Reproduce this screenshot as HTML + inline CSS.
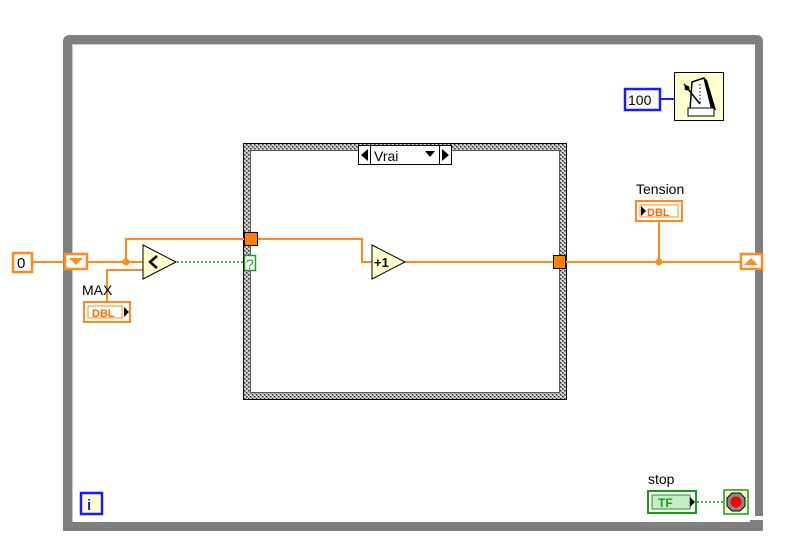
<!DOCTYPE html>
<html><head><meta charset="utf-8"><style>
html,body{margin:0;padding:0;background:#fff;}
svg{display:block;}
text{font-family:"Liberation Sans",sans-serif;}
</style></head><body>
<svg width="790" height="552" viewBox="0 0 790 552" xmlns="http://www.w3.org/2000/svg">
<defs>
<pattern id="chk" width="4" height="4" patternUnits="userSpaceOnUse">
<rect width="4" height="4" fill="#8a8a8a"/>
<circle cx="1" cy="1" r="0.9" fill="#ffffff"/>
<circle cx="3" cy="3" r="0.9" fill="#ffffff"/>
<rect x="2" y="0" width="1" height="1" fill="#303030"/>
<rect x="0" y="2" width="1" height="1" fill="#303030"/>
</pattern>
</defs>
<rect width="790" height="552" fill="#fff"/>
<!-- while loop frame -->
<path d="M63,531 L63,42 Q63,35 70,35 L756,35 Q763,35 763,42 L763,516 L755,516 L755,44 L72,44 L72,522 L750,522 L750,520 L763,520 L763,531 Z" fill="#7f7f7f"/>
<line x1="72" y1="44.5" x2="755" y2="44.5" stroke="#c8c8c8" stroke-width="1"/>
<line x1="72.5" y1="44" x2="72.5" y2="522" stroke="#c8c8c8" stroke-width="1"/>
<!-- case structure -->
<path d="M243,143 H567 V400 H243 Z M251,151 V392 H559 V151 Z" fill="url(#chk)" fill-rule="evenodd"/>
<rect x="243.5" y="143.5" width="323" height="256" fill="none" stroke="#000" stroke-width="1"/>
<rect x="250.5" y="150.5" width="309" height="242" fill="none" stroke="#555" stroke-width="1"/>
<!-- selector label -->
<rect x="358.5" y="145.5" width="93" height="19" fill="#fff" stroke="#000"/>
<line x1="370.5" y1="145" x2="370.5" y2="165" stroke="#000"/>
<line x1="439.5" y1="145" x2="439.5" y2="165" stroke="#000"/>
<polygon points="361,155 368,149 368,161" fill="#000"/>
<polygon points="442,149 449,155 442,161" fill="#000"/>
<polygon points="425,151 435,151 430,157" fill="#000"/>
<text x="374" y="161" font-size="14">Vrai</text>
<!-- orange wires -->
<g stroke="#ff8c1a" stroke-width="2" fill="none">
<line x1="32" y1="262" x2="64" y2="262"/>
<line x1="88" y1="262" x2="144" y2="262"/>
<polyline points="126,262 126,239 244,239"/>
<polyline points="107,301 107,270 144,270"/>
<polyline points="258,239 362,239 362,262 372,262"/>
<line x1="405" y1="262" x2="553" y2="262"/>
<line x1="566" y1="262" x2="740" y2="262"/>
<line x1="659" y1="222" x2="659" y2="262"/>
</g>
<circle cx="126" cy="262" r="3.5" fill="#ff8c1a"/>
<circle cx="659" cy="262" r="3.5" fill="#ff8c1a"/>
<!-- green dotted wires -->
<line x1="177" y1="262" x2="244" y2="262" stroke="#1a9a1a" stroke-width="1.5" stroke-dasharray="2,2"/>
<line x1="697" y1="502" x2="723" y2="502" stroke="#1a9a1a" stroke-width="1.5" stroke-dasharray="2,2"/>
<!-- blue wire -->
<line x1="660" y1="99" x2="674" y2="99" stroke="#1a1aff" stroke-width="2"/>
<!-- 0 constant -->
<rect x="13" y="253" width="19" height="19" fill="#fff" stroke="#ff8c1a" stroke-width="2.5"/>
<text x="17" y="268" font-size="15">0</text>
<!-- left shift register -->
<rect x="65" y="254" width="22" height="15" fill="#fff" stroke="#ff8c1a" stroke-width="2.5"/>
<polygon points="69,258 83,258 76,265" fill="#ff8c1a"/>
<!-- right shift register -->
<rect x="741" y="254" width="21" height="15" fill="#fff" stroke="#ff8c1a" stroke-width="2.5"/>
<polygon points="744,265 758,265 751,258" fill="#ff8c1a"/>
<!-- compare -->
<polygon points="143,245 176,262 143,279" fill="#ffffcc" stroke="#000" stroke-width="1"/>
<polyline points="157,256 150,262 157,268" fill="none" stroke="#000" stroke-width="2.5"/>
<!-- +1 -->
<polygon points="372,245 405,262 372,279" fill="#ffffcc" stroke="#000" stroke-width="1"/>
<text x="374" y="267" font-size="13" font-weight="bold">+1</text>
<!-- tunnels -->
<rect x="244.5" y="232.5" width="13" height="13" fill="#ff8000" stroke="#000"/>
<rect x="553.5" y="255.5" width="12" height="13" fill="#ff8000" stroke="#000"/>
<rect x="244.5" y="255.5" width="11" height="15" fill="#fff" stroke="#1a9a1a" stroke-width="1.5"/>
<text x="246" y="269" font-size="14" fill="#1a9a1a">?</text>
<!-- MAX control -->
<text x="82" y="295" font-size="14">MAX</text>
<rect x="84" y="302" width="46" height="20" fill="#fff" stroke="#ff8c1a" stroke-width="2"/>
<rect x="88" y="306" width="34" height="12" fill="#fff" stroke="#ff8c1a" stroke-width="1"/>
<text x="92" y="317" font-size="11" font-weight="bold" fill="#ff6a00">DBL</text>
<polygon points="124,307 129,312 124,317" fill="#000"/>
<!-- Tension indicator -->
<text x="636" y="194" font-size="14">Tension</text>
<rect x="636" y="201" width="46" height="20" fill="#fff" stroke="#ff8c1a" stroke-width="2"/>
<rect x="640" y="205" width="38" height="12" fill="#fff" stroke="#ff8c1a" stroke-width="1"/>
<polygon points="641,206 646,211 641,216" fill="#000"/>
<text x="647" y="216" font-size="11" font-weight="bold" fill="#ff6a00">DBL</text>
<!-- 100 constant -->
<rect x="625" y="89" width="35" height="21" fill="#fff" stroke="#1a1aff" stroke-width="2.5"/>
<text x="628" y="105" font-size="14">100</text>
<!-- metronome -->
<rect x="674.5" y="72.5" width="49" height="48" fill="#ffffcc" stroke="#000" stroke-width="1"/>
<path d="M692,82 L704,78 L712,110 L690,110 Z" fill="#fff" stroke="#000" stroke-width="1.5"/>
<path d="M704,78 L712,110 L716,110 L707,80 Z" fill="#000"/>
<rect x="688" y="108" width="26" height="8" fill="#fff" stroke="#000"/>
<line x1="684" y1="84" x2="700" y2="104" stroke="#000" stroke-width="1.5"/>
<circle cx="687" cy="88" r="2.5" fill="#000"/>
<line x1="700" y1="84" x2="700" y2="104" stroke="#000" stroke-width="1" stroke-dasharray="1.5,2"/>
<!-- i terminal -->
<rect x="81" y="493" width="21" height="21" fill="#ffffcc" stroke="#1a1aff" stroke-width="2.5"/>
<text x="87" y="510" font-size="15" font-weight="bold" fill="#1a1aff">i</text>
<!-- stop control -->
<text x="648" y="484" font-size="14">stop</text>
<rect x="648" y="491" width="48" height="22" fill="#fff" stroke="#1a9a1a" stroke-width="2"/>
<rect x="652" y="495" width="38" height="14" fill="#c8ecc8" stroke="#1a9a1a" stroke-width="1"/>
<text x="658" y="507" font-size="12" font-weight="bold" fill="#1a9a1a">TF</text>
<polygon points="690,497 695,502 690,507" fill="#000"/>
<!-- stop button -->
<rect x="724" y="490" width="24" height="24" fill="#ffffcc" stroke="#1a9a1a" stroke-width="1.5"/>
<polygon points="732,493 740,493 745,498 745,506 740,511 732,511 727,506 727,498" fill="#888" stroke="#000" stroke-width="1"/>
<circle cx="736" cy="502" r="5.5" fill="#ff0000"/>
</svg>
</body></html>
